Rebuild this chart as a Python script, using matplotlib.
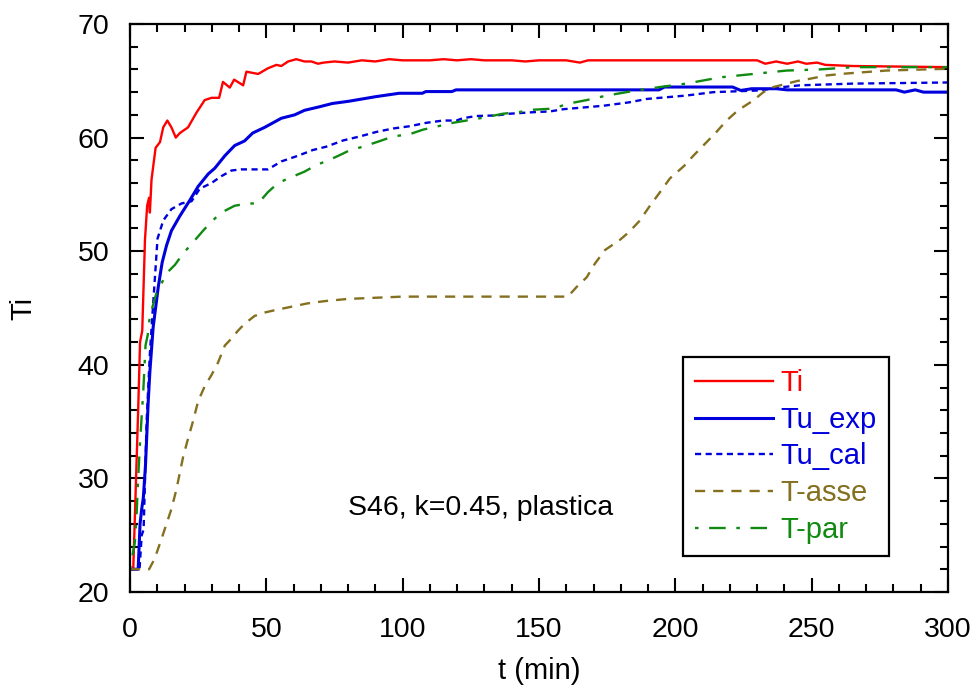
import matplotlib
matplotlib.use('Agg')
import matplotlib.pyplot as plt
from matplotlib.ticker import MultipleLocator

# Ti (red)
t_ti = [0, 1.2, 3, 3.7, 4.5, 5.5, 6.3, 7, 7.3, 7.9, 9.4, 11, 12.2, 13.7, 15.2, 16.8, 18.3,
        21.3, 24.4, 27.4, 29.9, 32.7, 34.1, 36.6, 38.2, 41.5, 42.7, 47, 50.6, 53.7, 55.5,
        58, 61, 64, 66.5, 69, 71, 75, 80, 85, 90, 95, 100, 110, 115, 120, 125, 130, 140,
        145, 150, 160, 165, 168, 180, 230, 233, 237, 241, 245, 248, 252, 255, 265, 300]
v_ti = [22, 22, 36, 42, 43, 51, 54, 54.7, 53.4, 56.3, 59.1, 59.6, 60.9, 61.5, 60.9, 60, 60.4,
        60.9, 62.2, 63.3, 63.5, 63.5, 64.9, 64.4, 65.1, 64.6, 65.8, 65.6, 66.1, 66.4, 66.3,
        66.7, 66.9, 66.7, 66.7, 66.5, 66.6, 66.7, 66.6, 66.8, 66.7, 66.9, 66.8, 66.8, 66.9,
        66.8, 66.9, 66.8, 66.8, 66.7, 66.8, 66.8, 66.6, 66.8, 66.8, 66.8, 66.5, 66.7, 66.5,
        66.7, 66.5, 66.6, 66.4, 66.3, 66.2]

# Tu_exp (blue solid)
t_uexp = [0, 3, 3.7, 4.3, 4.9, 5.7, 6.7, 7.3, 8.5, 10.4, 11.8, 13.4, 15.2, 18.3, 22, 25, 28.7,
          31.1, 34.8, 38.4, 42, 45, 49.4, 55.5, 60.4, 64, 69.3, 74.2, 80.3, 85.2, 90.1, 98.7,
          107.2, 108.5, 118, 119.6, 194, 196, 221, 224, 228, 237, 241, 281, 284, 288, 291, 300]
v_uexp = [22, 22, 26, 27.3, 28.3, 31.2, 36.8, 39.4, 43.3, 46.9, 49, 50.5, 51.8, 53.1, 54.5,
          55.7, 56.8, 57.3, 58.4, 59.3, 59.7, 60.4, 60.9, 61.7, 62, 62.4, 62.7, 63, 63.2, 63.4,
          63.6, 63.9, 63.9, 64.05, 64.05, 64.2, 64.2, 64.45, 64.45, 64.15, 64.3, 64.3, 64.2,
          64.2, 64.0, 64.2, 64.0, 64.0]

# Tu_cal (blue dotted)
t_ucal = [0, 3.5, 4.3, 5, 6.1, 7.3, 9.1, 10.1, 12.2, 15.2, 18.9, 22.6, 25.6, 29.9, 33.5, 37.2,
          40.8, 50.6, 55.5, 61.6, 67, 72, 78.2, 84.3, 90.4, 96.5, 102.6, 108.7, 114.8, 119.7,
          122, 127, 134.3, 139.2, 149, 154, 159, 173.6, 183, 189.5, 204, 214, 231, 239.6,
          245.7, 265, 300]
v_ucal = [22, 22, 25, 25.5, 35, 41, 47.5, 51.1, 52.7, 53.7, 54.2, 54.4, 55.5, 56, 56.6, 57.1,
          57.2, 57.2, 57.9, 58.4, 58.9, 59.2, 59.75, 60.1, 60.5, 60.8, 61, 61.3, 61.5, 61.5,
          61.7, 61.9, 61.95, 62.1, 62.25, 62.3, 62.5, 62.8, 63.1, 63.4, 63.7, 64.0, 64.15,
          64.45, 64.6, 64.75, 64.85]

# T-asse (olive dashed)
t_asse = [0, 7, 9, 11.6, 13.4, 15.2, 17, 19.5, 21.3, 23.2, 25, 27.4, 29.9, 32.3, 34.8, 37.2,
          39.6, 42, 45.7, 49.4, 53, 59, 65, 71.3, 80, 100, 160.6, 163.8, 167.5, 170.5, 174.2,
          179.7, 183.1, 187, 190.4, 194.1, 198, 203.2, 206.6, 210.9, 214.5, 218.8, 223, 228.6,
          232.3, 236, 240.8, 244.5, 249.4, 255.5, 261.6, 270, 277.5, 300]
v_asse = [22, 22, 22.9, 24.7, 26, 27.3, 29, 31.9, 33.5, 35.1, 36.8, 38.1, 39.1, 40.2, 41.7,
          42.3, 43, 43.6, 44.3, 44.6, 44.8, 45.1, 45.4, 45.6, 45.8, 46, 46, 46.85, 47.7, 48.9,
          50.1, 51, 51.7, 52.7, 53.9, 55.1, 56.4, 57.5, 58.4, 59.46, 60.34, 61.5, 62.4, 63.27,
          64, 64.45, 64.74, 64.97, 65.18, 65.47, 65.62, 65.77, 65.9, 66.06]

# T-par (green dash-dot)
t_par = [0, 1.5, 1.8, 2.4, 3, 3.7, 4.9, 5.7, 6.5, 7.3, 8.5, 9.8, 11.6, 14, 16.5, 19.5, 23.2,
         26.8, 29.9, 33.5, 38.4, 43.3, 47, 50.6, 54.3, 59, 64, 68.5, 73.3, 78.2, 80.7, 85.5,
         91.7, 96.5, 102.6, 107.5, 113, 118.5, 125.8, 130.7, 136.8, 142.9, 147.8, 155, 161,
         167.5, 174.8, 185.8, 194.4, 204, 216.4, 228.6, 240.8, 253, 265, 300]
v_par = [22, 24, 24.4, 26.7, 30, 33.2, 37.8, 41.7, 42.6, 44.3, 45.3, 46.4, 47.2, 48.2, 48.8,
         49.8, 50.8, 51.8, 52.6, 53.4, 54, 54.2, 54.2, 55.2, 56, 56.5, 57, 57.6, 58.05, 58.6,
         58.9, 59.2, 59.7, 60.1, 60.3, 60.7, 61, 61.3, 61.6, 61.8, 62.1, 62.25, 62.45, 62.55,
         63, 63.3, 63.7, 64.15, 64.45, 64.75, 65.3, 65.6, 65.9, 66, 66.2, 66.2]

plt.rcParams['font.family'] = ['Liberation Sans', 'DejaVu Sans']

fig = plt.figure(figsize=(9.78, 6.89), dpi=100)
ax = fig.add_axes([0.1329, 0.1408, 0.8364, 0.8244])

red = '#ff0000'
blue = '#0000dd'
olive = '#857020'
green = '#108a10'

ax.plot(t_ti, v_ti, color=red, lw=1.7, label='Ti')
ax.plot(t_uexp, v_uexp, color=blue, lw=2.2, label='Tu_exp')
ax.plot(t_ucal, v_ucal, color=blue, lw=1.7, linestyle=(0, (2.6, 1.9)), label='Tu_cal')
ax.plot(t_asse, v_asse, color=olive, lw=1.7, linestyle=(0, (4.3, 3.4)), label='T-asse')
ax.plot(t_par, v_par, color=green, lw=1.7, linestyle=(0, (1.5, 4.5, 7, 4.5)), label='T-par')

ax.set_xlim(0, 300)
ax.set_ylim(20, 70)
ax.xaxis.set_major_locator(MultipleLocator(50))
ax.xaxis.set_minor_locator(MultipleLocator(10))
ax.yaxis.set_major_locator(MultipleLocator(10))
ax.yaxis.set_minor_locator(MultipleLocator(2))
ax.tick_params(which='both', direction='in', top=True, right=True, width=1.5)
ax.tick_params(which='major', length=10, labelsize=20.5)
ax.tick_params(which='minor', length=5.8)
ax.tick_params(axis='x', which='major', pad=18)
ax.tick_params(axis='y', which='major', pad=15)
for s in ax.spines.values():
    s.set_linewidth(1.6)

ax.set_xlabel('t (min)', fontsize=21, labelpad=10)
ax.set_ylabel('Ti', fontsize=21, labelpad=29)

ax.text(80, 27.4, 'S46, k=0.45, plastica', fontsize=20.5, va='center', ha='left')

leg = ax.legend(loc='lower left', bbox_to_anchor=(0.676, 0.064), fontsize=21,
                handlelength=2.7, handletextpad=0.25, labelspacing=0.3,
                borderpad=0.4, borderaxespad=0, fancybox=False, framealpha=1,
                edgecolor='black')
leg.get_frame().set_linewidth(1.6)
for txt, line in zip(leg.get_texts(), leg.get_lines()):
    txt.set_color(line.get_color())

fig.savefig('out.png', dpi=100)
